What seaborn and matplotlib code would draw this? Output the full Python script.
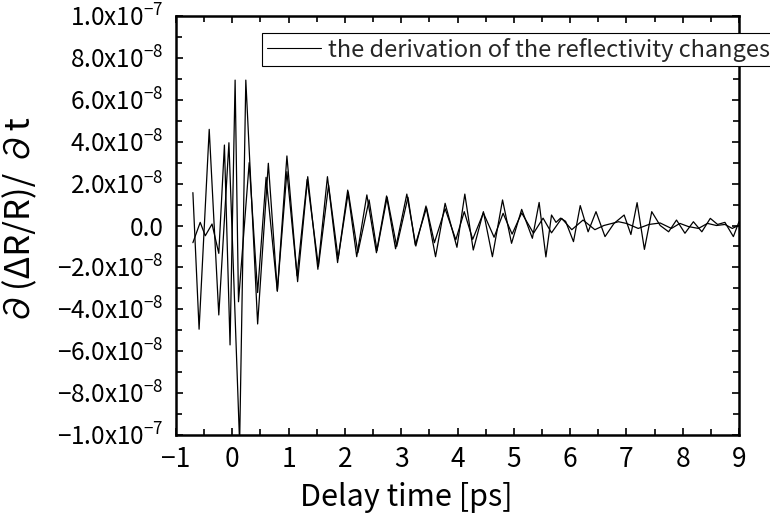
import numpy as np
import pandas as pd
import matplotlib
matplotlib.use("Agg")
import matplotlib.pyplot as plt
from matplotlib.ticker import MultipleLocator, FixedLocator, FuncFormatter
import seaborn as sns

# ---- data (values in units of 1e-8) ----
t1 = [-0.70, -0.59, -0.41, -0.24, -0.06, 0.13, 0.24, 0.45, 0.64, 0.80, 0.97, 1.16,
      1.34, 1.52, 1.69, 1.87, 2.05, 2.21, 2.39, 2.56, 2.74, 2.90, 3.10, 3.26, 3.44,
      3.61, 3.78, 3.99, 4.13, 4.28, 4.46, 4.62, 4.80, 4.96, 5.14, 5.33, 5.45, 5.57,
      5.67, 5.75, 5.83, 5.92, 6.06, 6.18, 6.32, 6.46, 6.62, 6.78, 6.96, 7.08, 7.19,
      7.32, 7.45, 7.60, 7.75, 7.89, 8.04, 8.19, 8.34, 8.49, 8.62, 8.75, 8.90, 9.00]
v1 = [1.57, -4.95, 4.59, -4.27, 3.95, -10.4, 6.94, -4.70, 2.97, -3.13, 3.32, -2.68,
      2.33, -2.09, 2.33, -1.77, 1.69, -1.49, 1.46, -1.30, 1.41, -1.11, 1.50, -0.98, 0.93,
      -1.49, 1.06, -1.04, 1.50, -1.17, 0.66, -1.49, 1.22, -0.85, 0.77, -0.61, 1.10, -1.50,
      0.50, 0.15, 0.35, 0.20, -0.77, 0.95, -0.30, 0.66, -0.53, 0.10, 0.50, -0.43, 1.09,
      -1.14, 0.66, 0.00, -0.30, 0.26, -0.37, 0.18, -0.30, 0.34, 0.05, 0.15, -0.53, 0.18]

t2 = [-0.70, -0.57, -0.48, -0.36, -0.24, -0.14, -0.04, 0.05, 0.11, 0.30, 0.45, 0.60,
      0.80, 0.97, 1.15, 1.33, 1.53, 1.71, 1.88, 2.06, 2.23, 2.43, 2.57, 2.75, 2.92,
      3.12, 3.25, 3.45, 3.59, 3.78, 3.97, 4.12, 4.27, 4.46, 4.65, 4.81, 4.97, 5.14,
      5.35, 5.52, 5.67, 5.85, 6.03, 6.23, 6.44, 6.60, 6.86, 7.00, 7.21, 7.40, 7.60,
      7.80, 7.95, 8.10, 8.28, 8.44, 8.60, 8.75, 8.88, 8.99]
v2 = [-0.82, 0.15, -0.49, 0.07, -1.33, 3.84, -5.70, 6.94, -3.64, 3.00, -3.20, 2.30,
      -3.13, 2.57, -2.40, 2.20, -1.95, 1.93, -1.57, 1.60, -1.30, 1.22, -1.20, 1.35, -1.00,
      1.35, -0.93, 0.85, -0.82, 0.80, -0.68, 0.66, -0.66, 0.60, -0.56, 0.58, -0.41, 0.60,
      -0.37, 0.35, -0.35, 0.34, -0.20, 0.26, -0.20, 0.00, 0.18, 0.10, -0.14, 0.05, 0.12,
      -0.14, 0.10, -0.05, -0.14, 0.10, 0.00, 0.05, -0.14, 0.00]

scale = 1e-8
legend_label = "the derivation of the reflectivity changes"
x_label = "Delay time [ps]"
y_label = "∂(ΔR/R)/ ∂t"
y_ticks = [-1.0e-7, -8e-8, -6e-8, -4e-8, -2e-8, 0.0, 2e-8, 4e-8, 6e-8, 8e-8, 1.0e-7]
x_ticks = [-1, 0, 1, 2, 3, 4, 5, 6, 7, 8, 9]

df1 = pd.DataFrame({"t": t1, "v": np.array(v1) * scale})
df2 = pd.DataFrame({"t": t2, "v": np.array(v2) * scale})

sns.set_theme(style="ticks")
plt.rcParams["font.family"] = ["Noto Sans CJK JP", "DejaVu Sans"]
plt.rcParams["axes.unicode_minus"] = True

fig = plt.figure(figsize=(7.7, 5.19), dpi=100)
ax = fig.add_axes([176 / 770, 1 - 435 / 519, (739 - 176) / 770, (435 - 16) / 519])

sns.lineplot(data=df1, x="t", y="v", ax=ax, color="black", linewidth=0.9,
             sort=False, estimator=None, label=legend_label)
sns.lineplot(data=df2, x="t", y="v", ax=ax, color="black", linewidth=0.9,
             sort=False, estimator=None)

ax.set_xlim(-1, 9)
ax.set_ylim(-1e-7, 1e-7)
ax.xaxis.set_major_locator(FixedLocator(x_ticks))
ax.xaxis.set_minor_locator(MultipleLocator(0.5))
ax.yaxis.set_major_locator(FixedLocator(y_ticks))
ax.yaxis.set_minor_locator(MultipleLocator(1e-8))


def yfmt(v, pos):
    if abs(v) < 1e-12:
        return "0.0"
    m, e = f"{v:.1e}".split("e")
    return r"$\mathregular{" + m + r"x10^{" + str(int(e)) + r"}}$"


def xfmt(v, pos):
    return f"{int(round(v))}".replace("-", "\u2212")


ax.yaxis.set_major_formatter(FuncFormatter(yfmt))
ax.xaxis.set_major_formatter(FuncFormatter(xfmt))

ax.tick_params(which="both", direction="in", top=True, right=True, color="black", width=1.2)
ax.tick_params(which="major", length=5)
ax.tick_params(which="minor", length=4)
ax.tick_params(axis="y", which="major", labelsize=17.5, pad=9)
ax.tick_params(axis="x", which="major", labelsize=19, pad=8)
for lab in ax.get_xticklabels() + ax.get_yticklabels():
    lab.set_color("black")
for s in ax.spines.values():
    s.set_linewidth(1.8)
    s.set_color("black")

ax.set_xlabel(x_label, fontsize=22, color="black")
ax.set_ylabel(y_label, fontsize=25, color="black")
ax.xaxis.set_label_coords((406 - 176) / 563, -0.112)
ax.yaxis.set_label_coords(-0.245, 0.51)

leg = ax.legend(loc="upper left", bbox_to_anchor=(262 / 770, 1 - 33 / 519),
                bbox_transform=fig.transFigure, frameon=True, fancybox=False,
                shadow=False, fontsize=17, handlelength=2.3, handletextpad=0.3,
                borderpad=0.2, borderaxespad=0)
leg.get_frame().set_edgecolor("black")
leg.get_frame().set_linewidth(0.8)
leg.get_frame().set_alpha(1)
leg.set_zorder(5)
for line in leg.get_lines():
    line.set_linewidth(0.8)

fig.savefig("out.png", dpi=100)
